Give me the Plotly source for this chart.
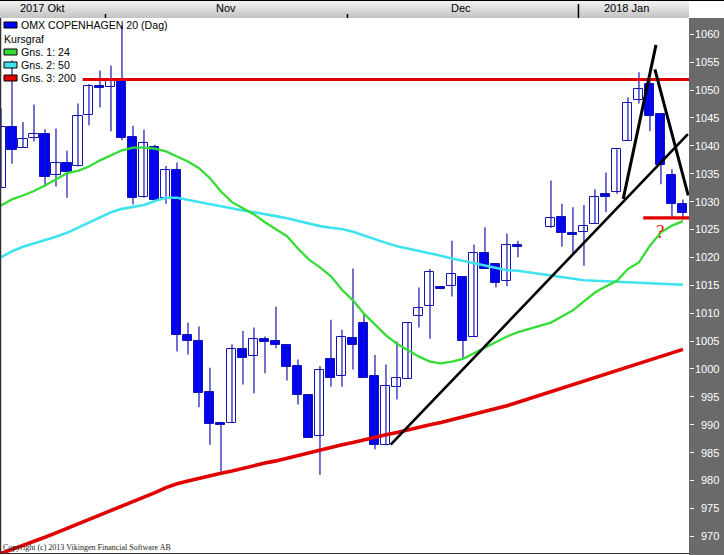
import plotly.graph_objects as go

# ---------------- data ----------------
idx = list(range(0, 48)) + list(range(50, 63))

opens = [1032.5, 1043.4, 1039.7, 1041.4, 1042.2, 1034.7, 1036.9, 1036.3, 1045.5, 1050.8,
         1050.6, 1051.8, 1041.5, 1030.9, 1039.8, 1030.7, 1035.6, 1006.1, 1005.0, 995.9,
         990.3, 990.3, 1003.6, 1002.3, 1005.4, 1005.0, 1004.3, 1000.5, 995.3, 987.9,
         1001.8, 998.7, 1005.5, 1008.2, 998.7, 986.3, 996.7, 998.2, 1009.5, 1011.3,
         1014.6, 1014.9, 1016.4, 1005.7, 1020.7, 1018.9, 1015.7, 1022.3,
         1025.5, 1027.3, 1024.3, 1024.5, 1026.0, 1031.3, 1031.8, 1040.9, 1048.3, 1051.1, 1045.7, 1034.8, 1029.6]
highs = [1046.7, 1055.3, 1044.3, 1047.4, 1043.0, 1043.1, 1039.1, 1047.6, 1051.1, 1053.5,
         1054.4, 1061.6, 1043.6, 1042.9, 1040.2, 1036.4, 1037.0, 1008.3, 1007.6, 1000.2,
         990.5, 1004.4, 1006.8, 1007.4, 1005.8, 1011.2, 1004.3, 1001.7, 995.3, 1000.5,
         1008.8, 1007.0, 1018.0, 1009.9, 1002.5, 1000.8, 1004.9, 1008.3, 1014.6, 1017.9,
         1014.8, 1023.0, 1016.4, 1022.3, 1025.4, 1018.9, 1024.3, 1023.0,
         1033.8, 1029.6, 1029.0, 1029.4, 1032.2, 1035.2, 1039.4, 1048.7, 1053.2, 1052.2, 1045.7, 1035.8, 1030.4]
lows = [1032.5, 1036.8, 1039.6, 1040.8, 1032.7, 1032.7, 1030.7, 1036.3, 1043.7, 1046.9,
        1042.6, 1041.0, 1029.5, 1030.7, 1030.0, 1029.6, 1003.1, 1002.6, 993.1, 986.4,
        981.6, 990.3, 997.2, 995.6, 999.2, 1003.7, 997.9, 993.6, 987.6, 981.0,
        996.8, 996.8, 999.9, 998.4, 985.6, 986.3, 994.5, 998.2, 1007.4, 1005.4,
        1014.3, 1013.0, 1002.0, 1005.7, 1018.0, 1014.6, 1014.8, 1020.0,
        1025.3, 1021.9, 1020.5, 1018.5, 1026.0, 1028.1, 1031.4, 1040.9, 1047.6, 1042.6, 1033.1, 1027.1, 1026.8]
closes = [1043.4, 1039.2, 1041.2, 1042.1, 1034.5, 1036.9, 1035.4, 1045.4, 1050.8, 1050.3,
          1051.8, 1041.4, 1030.6, 1040.5, 1030.3, 1035.6, 1006.1, 1005.0, 995.7, 990.1,
          989.9, 1003.5, 1002.0, 1005.3, 1004.9, 1004.3, 1000.4, 995.3, 987.6, 999.8,
          998.4, 1005.7, 1004.3, 998.4, 986.3, 996.9, 998.3, 1008.3, 1010.9, 1017.4,
          1014.4, 1017.0, 1005.0, 1020.8, 1018.0, 1015.4, 1022.3, 1021.9,
          1027.1, 1024.4, 1024.1, 1025.7, 1030.9, 1030.9, 1039.4, 1047.7, 1050.2, 1045.4, 1036.5, 1029.5, 1027.9]

ma24 = [1029.3, 1030.4, 1031.1, 1031.9, 1032.9, 1034.0, 1035.1, 1035.5, 1036.3, 1037.4,
        1038.3, 1039.2, 1039.7, 1039.7, 1039.5, 1039.0, 1038.1, 1037.2, 1036.0, 1034.2,
        1031.8, 1029.9, 1028.8, 1027.7, 1026.3, 1025.1, 1023.8, 1021.6, 1019.6, 1018.2,
        1016.6, 1014.2, 1012.3, 1009.9, 1008.0, 1006.0, 1004.5, 1003.3, 1002.2, 1001.3,
        1001.0, 1001.3, 1001.8, 1002.8, 1003.8, 1004.8, 1005.8, 1006.6,
        1008.3, 1009.4, 1010.5, 1012.1, 1013.7, 1014.8, 1015.8, 1017.9, 1019.1, 1022.1, 1024.5, 1025.7, 1026.5]
ma50 = [1020.0, 1021.1, 1021.9, 1022.5, 1023.0, 1023.7, 1024.4, 1025.3, 1026.2, 1027.2,
        1028.1, 1028.7, 1029.1, 1029.4, 1030.1, 1030.7, 1030.7, 1030.3, 1030.0, 1029.5,
        1029.1, 1028.7, 1028.4, 1028.1, 1027.8, 1027.4, 1027.0, 1026.5, 1026.1, 1025.6,
        1025.3, 1025.1, 1024.6, 1023.9, 1023.3, 1022.6, 1022.0, 1021.6, 1021.1, 1020.7,
        1020.3, 1019.8, 1019.4, 1018.9, 1018.5, 1018.1, 1017.7, 1017.6,
        1016.7, 1016.5, 1016.2, 1015.9, 1015.8, 1015.7, 1015.7, 1015.6, 1015.5, 1015.3, 1015.2, 1015.1, 1015.1]
ma200 = [966.9, 967.6, 968.3, 969.1, 969.8, 970.6, 971.4, 972.1, 972.9, 973.7,
         974.5, 975.3, 976.2, 977.0, 977.8, 978.7, 979.4, 979.9, 980.4, 980.8,
         981.3, 981.7, 982.2, 982.6, 983.1, 983.5, 984.0, 984.5, 984.9, 985.5,
         985.9, 986.4, 986.8, 987.3, 987.7, 988.2, 988.6, 989.1, 989.5, 990.0,
         990.4, 990.9, 991.3, 991.8, 992.3, 992.8, 993.4, 994.0,
         995.9, 996.5, 997.2, 997.8, 998.4, 999.0, 999.7, 1000.3, 1000.9, 1001.6, 1002.2, 1002.9, 1003.5]

y_ticks = list(range(970, 1061, 5))
month_labels = ["2017 Okt", "Nov", "Dec", "2018 Jan"]
month_label_pos = [3.8, 20.5, 41.8, 56.9]
month_breaks = [9.5, 31.5]
year_breaks = [52.5]

# user drawings (data units)
trend_x = [35.43, 62.45]
trend_y = [986.4, 1042.1]
peak_up_x = [56.57, 59.55]
peak_up_y = [1030.5, 1058.1]
peak_dn_x = [59.45, 62.48]
peak_dn_y = [1053.7, 1031.1]
resist_x = [7.43, 62.55]
resist_y = [1051.9, 1051.9]
support_x = [58.39, 62.55]
support_y = [1027.1, 1027.1]

# ---------------- geometry ----------------
W, H = 724, 555
ML, MR, MT, MB = 0, 35, 18, 1
PW, PH = W - ML - MR, H - MT - MB
XR = [-0.09, 62.55]
YR = [966.8, 1062.93]


def px2x(px):
    return (px - ML) / PW


def py2y(py):
    return 1 - (py - MT) / PH


WICK = "#1414b4"
BLUE = "#0000ff"
GREEN = "#36dc36"
CYAN = "#3fe3f0"
RED = "#e00000"

fig = go.Figure()

# wicks
wx, wy = [], []
for i, h, l in zip(idx, highs, lows):
    wx += [i, i, None]
    wy += [l, h, None]
fig.add_trace(go.Scatter(x=wx, y=wy, mode="lines", line=dict(color=WICK, width=1.2),
                         hoverinfo="skip", showlegend=False))

# bodies
bases = [min(o, c) for o, c in zip(opens, closes)]
hts = [max(abs(c - o), 0.3) for o, c in zip(opens, closes)]
fills = ["#ffffff" if c > o else BLUE for o, c in zip(opens, closes)]
fig.add_trace(go.Bar(x=idx, y=hts, base=bases, width=0.82,
                     marker=dict(color=fills, line=dict(color=WICK, width=1)),
                     showlegend=False, hoverinfo="skip"))

# moving averages
fig.add_trace(go.Scatter(x=idx, y=ma50, mode="lines", line=dict(color=CYAN, width=2.6),
                         showlegend=False, hoverinfo="skip"))
fig.add_trace(go.Scatter(x=idx, y=ma24, mode="lines", line=dict(color=GREEN, width=2.3),
                         showlegend=False, hoverinfo="skip"))
fig.add_trace(go.Scatter(x=idx, y=ma200, mode="lines", line=dict(color=RED, width=3.6),
                         showlegend=False, hoverinfo="skip"))

# drawings
for xs, ys, col, wd in [(resist_x, resist_y, RED, 3.2), (support_x, support_y, RED, 3.2),
                        (trend_x, trend_y, "#000000", 2.6), (peak_up_x, peak_up_y, "#000000", 3),
                        (peak_dn_x, peak_dn_y, "#000000", 3)]:
    fig.add_trace(go.Scatter(x=xs, y=ys, mode="lines", line=dict(color=col, width=wd),
                             showlegend=False, hoverinfo="skip"))

shapes = []
annotations = []

# right axis panel
shapes.append(dict(type="rect", xref="paper", yref="paper", x0=1, x1=px2x(W + 2),
                   y0=py2y(H + 2), y1=1, fillcolor="#6a6a6a", line=dict(width=0), layer="below"))
# top band gradient
n = 18
for k in range(n):
    t = k / (n - 1)
    c = int(round(244 - t * (244 - 196)))
    shapes.append(dict(type="rect", xref="paper", yref="paper", x0=0, x1=1,
                       y0=py2y(k + 1), y1=py2y(k), fillcolor=f"rgb({c},{c},{c})",
                       line=dict(width=0), layer="below"))
shapes.append(dict(type="line", xref="paper", yref="paper", x0=0, x1=px2x(W), y0=py2y(0.5), y1=py2y(0.5),
                   line=dict(color="#000000", width=1)))
# month / year separators
for b in month_breaks:
    shapes.append(dict(type="line", xref="x", yref="paper", x0=b, x1=b, y0=py2y(18), y1=py2y(14),
                       line=dict(color="#000000", width=1.5)))
for b in year_breaks:
    shapes.append(dict(type="line", xref="x", yref="paper", x0=b, x1=b, y0=py2y(18), y1=py2y(4),
                       line=dict(color="#000000", width=1.5)))
# frame
shapes.append(dict(type="line", xref="paper", yref="paper", x0=px2x(0.5), x1=px2x(0.5), y0=0, y1=1,
                   line=dict(color="#303030", width=1.5)))
shapes.append(dict(type="line", xref="paper", yref="paper", x0=0, x1=1, y0=py2y(553.5), y1=py2y(553.5),
                   line=dict(color="#303030", width=1)))

for lab, pos in zip(month_labels, month_label_pos):
    annotations.append(dict(x=pos, xref="x", y=py2y(8.5), yref="paper", text=lab, showarrow=False,
                            xanchor="center", yanchor="middle",
                            font=dict(family="Liberation Sans, Arial", size=11, color="#000000")))

for v in y_ticks:
    annotations.append(dict(x=px2x(721), xref="paper", y=v, yref="y", text=str(v), showarrow=False,
                            xanchor="right", yanchor="middle",
                            font=dict(family="Liberation Sans, Arial", size=11, color="#ffffff")))

# legend (manual)
leg = [("OMX COPENHAGEN 20 (Dag)", BLUE, 25), ("Kursgraf", None, 39), ("Gns. 1: 24", GREEN, 52),
       ("Gns. 2: 50", CYAN, 65), ("Gns. 3: 200", RED, 78)]
for text, col, yc in leg:
    if col is not None:
        shapes.append(dict(type="rect", xref="paper", yref="paper", x0=px2x(4), x1=px2x(17),
                           y0=py2y(yc + 3), y1=py2y(yc - 3), fillcolor=col,
                           line=dict(color="#000000", width=1)))
        xt = 19
    else:
        xt = 2
    annotations.append(dict(x=px2x(xt), xref="paper", y=py2y(yc), yref="paper", text=text, showarrow=False,
                            xanchor="left", yanchor="middle",
                            font=dict(family="Liberation Sans, Arial", size=10.6, color="#000000")))

annotations.append(dict(x=59.9, xref="x", y=1024.6, yref="y", text="?", showarrow=False,
                        font=dict(family="Liberation Serif, Times New Roman", size=19, color="#e02020")))
annotations.append(dict(x=px2x(1), xref="paper", y=py2y(547), yref="paper",
                        text="Copyright (c) 2013 Vikingen Financial Software AB", showarrow=False,
                        xanchor="left", yanchor="middle",
                        font=dict(family="Liberation Serif, Times New Roman", size=8, color="#222222")))

fig.update_layout(
    width=W, height=H, margin=dict(l=ML, r=MR, t=MT, b=MB, pad=0, autoexpand=False),
    paper_bgcolor="#ffffff", plot_bgcolor="#ffffff",
    showlegend=False, hovermode=False, bargap=0,
    xaxis=dict(range=XR, showgrid=False, zeroline=False, showticklabels=False, ticks="",
               showline=False, fixedrange=True, automargin=False),
    yaxis=dict(range=YR, side="right", showgrid=False, zeroline=False, showticklabels=False,
               tickvals=y_ticks, ticks="outside", ticklen=4, tickcolor="#ffffff", tickwidth=1,
               showline=False, fixedrange=True, automargin=False),
    shapes=shapes, annotations=annotations,
)

fig.write_html("out.html", config={"displayModeBar": False},
               post_script="document.body.style.margin='0';document.body.style.padding='0';")
